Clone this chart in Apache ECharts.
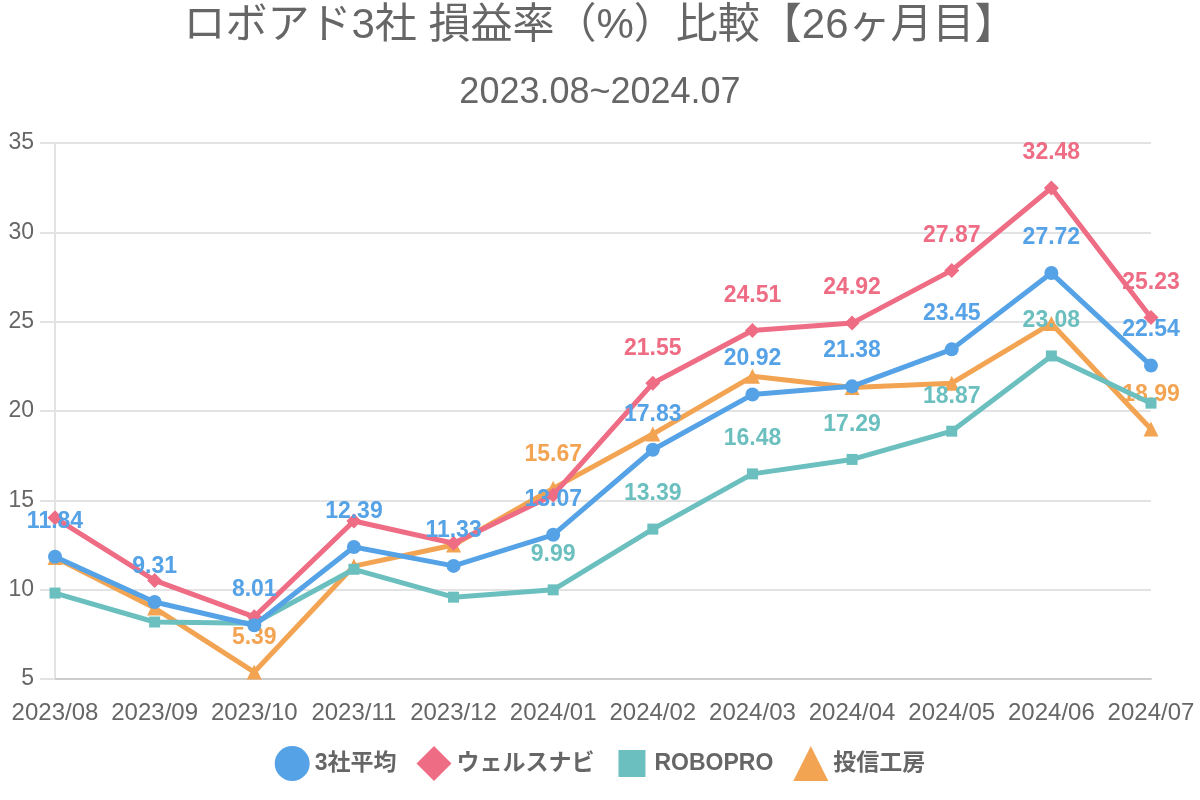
<!DOCTYPE html>
<html><head><meta charset="utf-8">
<script src="https://cdn.jsdelivr.net/npm/echarts@6/dist/echarts.min.js"></script>
<style>html,body{margin:0;padding:0;background:#fff}#c{width:1200px;height:800px}</style>
</head><body><div id="c"></div>
<script>
const categories = ['2023/08','2023/09','2023/10','2023/11','2023/12','2024/01','2024/02','2024/03','2024/04','2024/05','2024/06','2024/07'];
const avgValues   = [11.84, 9.31, 8.01, 12.39, 11.33, 13.07, 17.83, 20.92, 21.38, 23.45, 27.72, 22.54];
const wealthValues= [14.02, 10.52, 8.48, 13.84, 12.60, 15.30, 21.55, 24.51, 24.92, 27.87, 32.48, 25.23];
const roboproValues=[9.81, 8.19, 8.12, 11.14, 9.58, 9.99, 13.39, 16.48, 17.29, 18.87, 23.08, 20.44];
const toushinValues=[11.80, 8.97, 5.39, 11.32, 12.50, 15.67, 18.71, 21.94, 21.32, 21.56, 24.90, 18.99];
const seriesNames = ['3社平均','ウェルスナビ','ROBOPRO','投信工房'];
const avgLabeled = [0,1,2,3,4,5,6,7,8,9,10,11];
const wealthLabeled = [6,7,8,9,10,11];
const roboproLabeled = [5,6,7,8,9,10];
const toushinLabeled = [2,5,11];
const yTicks = [5,10,15,20,25,30,35];

const colors = {avg:'#55a2e6', wealth:'#ee6c84', robo:'#6cbfbf', toushin:'#f2a453'};
const latin = '"Liberation Sans", Arial, sans-serif';
const mixed = '"Liberation Sans", "Noto Sans CJK JP", sans-serif';

function mk(name, values, labeled, color, symbol, size, dist, z){
  return {
    name, type:'line', data: values.map((v,i)=>({value:v, label:{show: labeled.includes(i)}})),
    symbol, symbolSize:size, z,
    lineStyle:{width:5, color}, itemStyle:{color, borderWidth:0},
    label:{position:'top', distance:dist, color, fontSize:23, fontWeight:'bold', fontFamily:latin, formatter:p=>p.value.toFixed(2)},
    emphasis:{disabled:true}, animation:false
  };
}

const chart = echarts.init(document.getElementById('c'));
chart.setOption({
  animation:false,
  title:[
    {text:'ロボアド3社 損益率（%）比較【26ヶ月目】', left:'center', top:0, textStyle:{fontSize:42, fontWeight:'normal', color:'#666', fontFamily:mixed}},
    {text:'2023.08~2024.07', left:'center', top:70, textStyle:{fontSize:36, fontWeight:'normal', color:'#666', fontFamily:latin}}
  ],
  legend:{
    bottom:14, left:'center', itemWidth:35, itemHeight:35, itemGap:20,
    data:[
      {name:'3社平均',icon:'circle'},
      {name:'ウェルスナビ',icon:'diamond'},
      {name:'ROBOPRO',icon:'path://M0,0L0,0M35,35L35,35M4,4L31,4L31,31L4,31Z'},
      {name:'投信工房',icon:'triangle'}
    ],
    textStyle:{fontSize:23, fontWeight:'bold', color:'#666', fontFamily:mixed}
  },
  grid:{left:55, right:49, top:143, bottom:121},
  xAxis:{type:'category', data:categories, boundaryGap:false,
    axisLine:{show:true, lineStyle:{color:'#ccc', width:2}}, axisTick:{show:false},
    axisLabel:{fontSize:24, color:'#666', margin:22, fontFamily:latin, interval:0},
    splitLine:{show:false}},
  yAxis:{type:'value', min:yTicks[0], max:yTicks[yTicks.length-1], interval:5,
    axisLine:{show:true, lineStyle:{color:'#e3e3e3', width:2}},
    axisTick:{show:true, length:15, lineStyle:{color:'#e3e3e3', width:2}},
    axisLabel:{fontSize:23, color:'#666', margin:21, fontFamily:latin},
    splitLine:{lineStyle:{color:'#e3e3e3', width:2}}},
  series:[
    mk(seriesNames[3], toushinValues, toushinLabeled, colors.toushin, 'triangle', 15, 15, 1),
    mk(seriesNames[2], roboproValues, roboproLabeled, colors.robo, 'rect', 11, 18, 2),
    mk(seriesNames[1], wealthValues, wealthLabeled, colors.wealth, 'diamond', 15, 16, 3),
    mk(seriesNames[0], avgValues, avgLabeled, colors.avg, 'circle', 14, 17, 4)
  ]
});
</script></body></html>
